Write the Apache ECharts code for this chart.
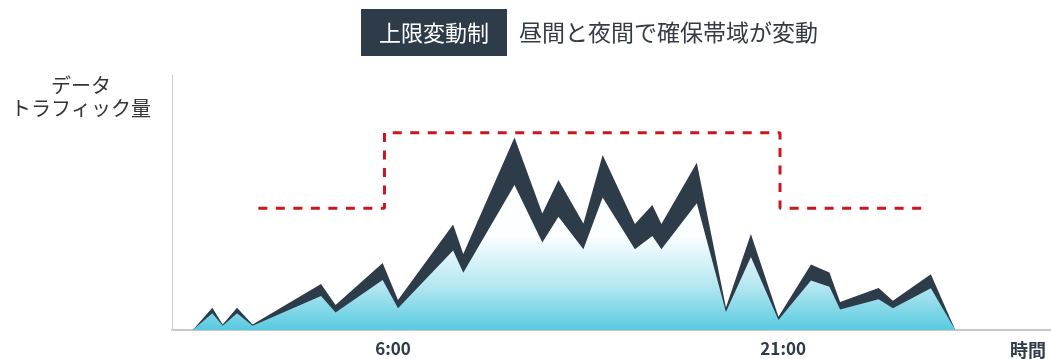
<!DOCTYPE html>
<html>
<head>
<meta charset="utf-8">
<script src="https://cdn.jsdelivr.net/npm/echarts@6/dist/echarts.min.js"></script>
<style>
html,body{margin:0;padding:0;background:#fff;}
#chart{width:1051px;height:359px;}
</style>
</head>
<body>
<div id="chart"></div>
<script>
// Time of day (hours) of each vertex of the traffic curve
const hours = [-1.70, -0.95, -0.55, 0, 0.60, 3.23, 3.79, 5.60, 6.19, 8.31, 8.70, 10.67, 11.74, 12.36, 13.32, 14.06, 15.30, 15.97, 16.32, 17.68, 18.80, 19.76, 20.82, 22.07, 22.78, 23.19, 24.67, 25.22, 26.68, 27.62];
// Upper edge of traffic (dark band top)
const peakTraffic = [0, 22.3, 5.5, 22.3, 5.5, 46, 25, 67, 30, 105.5, 76, 192.5, 116.5, 150, 106.5, 175, 106, 125, 106, 167.3, 22.5, 96, 13.3, 65.5, 57.5, 28, 42, 29.2, 55.7, 0];
// Lower edge of traffic (light area top)
const baseTraffic = [0, 16.7, 4.3, 16.7, 4.3, 34, 17.5, 50, 21.7, 79.5, 57.3, 145, 87.5, 113.3, 80.7, 132.5, 80.7, 94, 80.7, 126.7, 18, 73, 10, 49.5, 43.3, 20.5, 30.8, 21.7, 41.7, 0];
// Bandwidth cap (variable limit)
const limitHours = [0.82, 5.67, 5.67, 20.88, 20.88, 26.46];
const limitValues = [121.7, 121.7, 197.3, 197.3, 121.7, 121.7];
// Tick labels
const tickHours = [6, 21];
const titleTag = '上限変動制';
const titleText = '昼間と夜間で確保帯域が変動';
const yName = 'データ\nトラフィック量';
const xName = '時間';

const FONT = '"Noto Sans CJK JP", "Noto Sans", sans-serif';
const zip = (xs, ys) => xs.map((x, i) => [x, ys[i]]);

const chart = echarts.init(document.getElementById('chart'));
chart.setOption({
  animation: false,
  backgroundColor: '#ffffff',
  grid: { left: 172, right: 0, top: 75, bottom: 29 },
  xAxis: {
    type: 'value', min: -2.5, max: 31.3,
    axisLine: { show: true, onZero: false, lineStyle: { color: '#c8c8c8', width: 2 } },
    axisTick: { show: false },
    splitLine: { show: false },
    axisLabel: {
      customValues: tickHours,
      formatter: v => v + ':00',
      color: '#2e3b49', fontSize: 17, fontWeight: 'bold', fontFamily: FONT, margin: 10
    }
  },
  yAxis: {
    type: 'value', min: 0, max: 255,
    axisLine: { show: true, onZero: false, lineStyle: { color: '#cccccc', width: 1 } },
    axisTick: { show: false },
    axisLabel: { show: false },
    splitLine: { show: false }
  },
  graphic: [
    { type: 'rect', left: 361, top: 9, shape: { width: 146, height: 47 }, style: { fill: '#2e3b49' } },
    { type: 'text', x: 434, y: 32.5, style: { text: titleTag, fill: '#ffffff', font: '22px ' + FONT, textAlign: 'center', textVerticalAlign: 'middle' } },
    { type: 'text', x: 519, y: 32.5, style: { text: titleText, fill: '#333a42', font: '23px ' + FONT, textAlign: 'left', textVerticalAlign: 'middle' } },
    { type: 'text', x: 81, y: 97, style: { text: yName, fill: '#333333', font: '20px ' + FONT, lineHeight: 23, textAlign: 'center', textVerticalAlign: 'middle' } },
    { type: 'text', x: 1028, y: 350, style: { text: xName, fill: '#2e3b49', font: 'bold 18px ' + FONT, textAlign: 'center', textVerticalAlign: 'middle' } }
  ],
  series: [
    {
      type: 'line', data: zip(hours, peakTraffic), showSymbol: false, silent: true, z: 2,
      lineStyle: { width: 0 },
      areaStyle: { color: '#2e3b49', opacity: 1 }
    },
    {
      type: 'line', data: zip(hours, baseTraffic), showSymbol: false, silent: true, z: 3,
      lineStyle: { width: 0 },
      areaStyle: {
        opacity: 1,
        color: new echarts.graphic.LinearGradient(0, 0, 0, 1, [
          { offset: 0, color: '#ffffff' },
          { offset: 0.35, color: '#fbfeff' },
          { offset: 0.7, color: '#b3e7f1' },
          { offset: 1, color: '#58cae0' }
        ])
      }
    },
    {
      type: 'line', data: zip(limitHours, limitValues), showSymbol: false, silent: true, z: 4,
      lineStyle: { color: '#c9161f', width: 3, type: [9, 8.5] }
    }
  ]
});
</script>
</body>
</html>
